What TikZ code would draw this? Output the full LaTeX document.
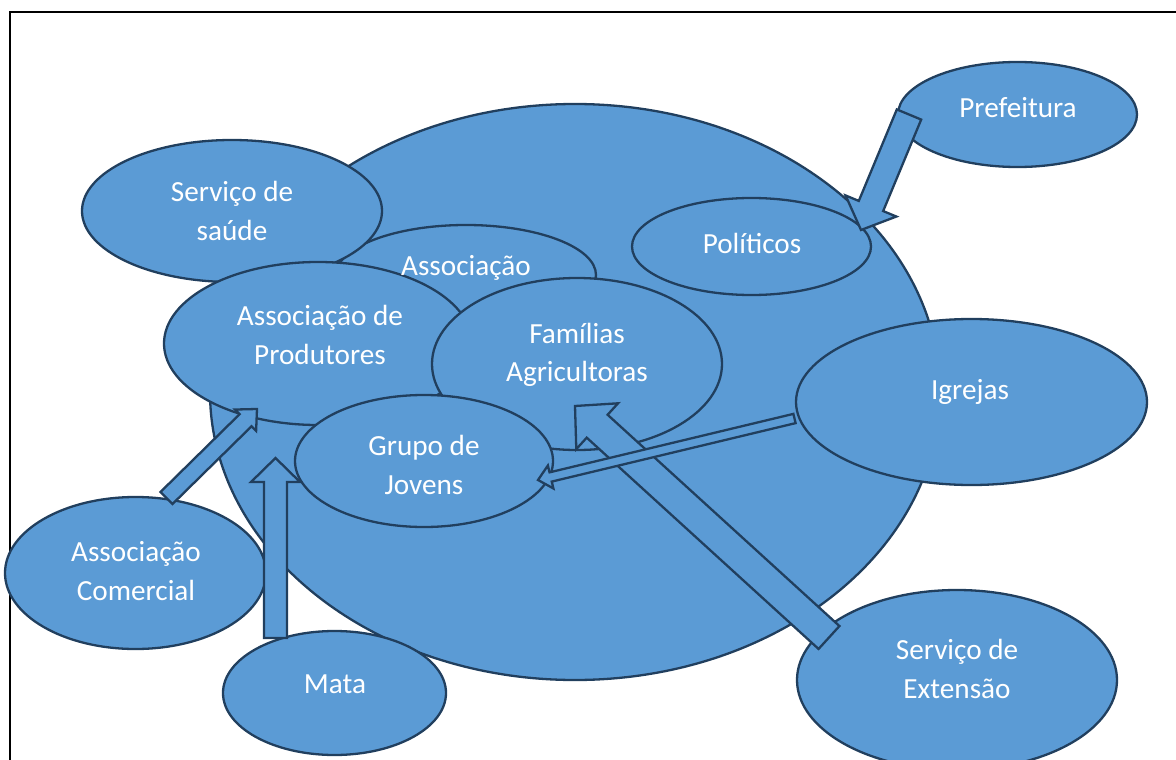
\documentclass[tikz,border=0pt]{standalone}
\usepackage{fontspec}
\setmainfont{Carlito}
\usetikzlibrary{shapes.geometric,calc}
\definecolor{fillblue}{HTML}{5B9BD5}
\definecolor{edgeblue}{HTML}{213F5E}
\tikzset{
  blob/.style={ellipse, draw=edgeblue, fill=fillblue, line width=2.3pt, inner sep=0pt},
  txt/.style={text=white, align=center, font=\fontsize{29.2}{38.5}\selectfont},
  blockarrow/.style={draw=edgeblue, fill=fillblue, line width=2.3pt, line join=miter},
  frameline/.style={black, line width=1.5pt}
}
% tail, tip, half shaft width, half head width, head length
\newcommand\blockarr[5]{%
  \coordinate (ba-base) at ($(#2)!#5!(#1)$);
  \draw[blockarrow] ($(#1)!#3!90:(#2)$) -- ($(ba-base)!#3!90:(#2)$) -- ($(ba-base)!#4!90:(#2)$) -- (#2)
    -- ($(ba-base)!#4!-90:(#2)$) -- ($(ba-base)!#3!-90:(#2)$) -- ($(#1)!#3!-90:(#2)$) -- cycle;
}
\begin{document}
\begin{tikzpicture}[x=1pt,y=-1pt]
\useasboundingbox (0,0) rectangle (1176,760);
\draw[frameline] (10,760) -- (10,12) -- (1176,12);

\node[blob, minimum width=730pt, minimum height=576pt] (big) at (575,392) {};
\node[blob, minimum width=260pt, minimum height=100pt] (assoc) at (466,275) {};
\node[blob, minimum width=300pt, minimum height=142pt] (saude) at (232,211) {};
\node[blob, minimum width=308pt, minimum height=163pt] (prod) at (318,343.5) {};
\node[blob, minimum width=290pt, minimum height=172pt] (fam) at (577,364) {};
\node[blob, minimum width=258pt, minimum height=132pt] (jov) at (424,461) {};
\node[blob, minimum width=239pt, minimum height=97pt] (pol) at (751.5,246.5) {};
\node[blob, minimum width=239pt, minimum height=105pt] (pref) at (1017.5,114.5) {};
\node[blob, minimum width=351pt, minimum height=166pt] (igr) at (971.5,402) {};
\node[blob, minimum width=261pt, minimum height=152pt] (com) at (135.5,573) {};
\node[blob, minimum width=223pt, minimum height=124pt] (mata) at (334.5,693) {};
\node[blob, minimum width=320pt, minimum height=180pt] (ext) at (957,680) {};

\node[txt] (tsaude) at (232,211) {Serviço de\\saúde};
\node[txt] (tassoc) at (466,268) {Associação};
\node[txt] (tprod) at (320,335) {Associação de\\Produtores};
\node[txt] (tfam) at (577,355) {Famílias\\Agricultoras};
\node[txt] (tjov) at (424,465) {Grupo de\\Jovens};
\node[txt] (tpol) at (752,243) {Políticos};
\node[txt] (tpref) at (1018,108) {Prefeitura};
\node[txt] (tigr) at (970,392) {Igrejas};
\node[txt] (tcom) at (136,571) {Associação\\Comercial};
\node[txt] (tmata) at (335,684) {Mata};
\node[txt] (text) at (957,669) {Serviço de\\Extensão};

% arrow end points
\coordinate (a1t) at (909,114.5);
\coordinate (a1h) at (861,230);
\coordinate (a3t) at (829,637.5);
\coordinate (a3h) at (575,406);
\coordinate (a2t) at (794.5,418.5);
\coordinate (a2h) at (538,480);
\coordinate (a4t) at (166.5,498);
\coordinate (a4h) at (257,409);
\coordinate (a5t) at (275.5,638);
\coordinate (a5h) at (275.5,458);

\blockarr{a1t}{a1h}{13.2pt}{27.5pt}{26pt}
\blockarr{a3t}{a3h}{15.5pt}{31pt}{30pt}
\blockarr{a2t}{a2h}{4.75pt}{11.8pt}{13pt}
\blockarr{a4t}{a4h}{8.5pt}{15pt}{16pt}
\blockarr{a5t}{a5h}{11.5pt}{24.5pt}{24pt}
\end{tikzpicture}
\end{document}
